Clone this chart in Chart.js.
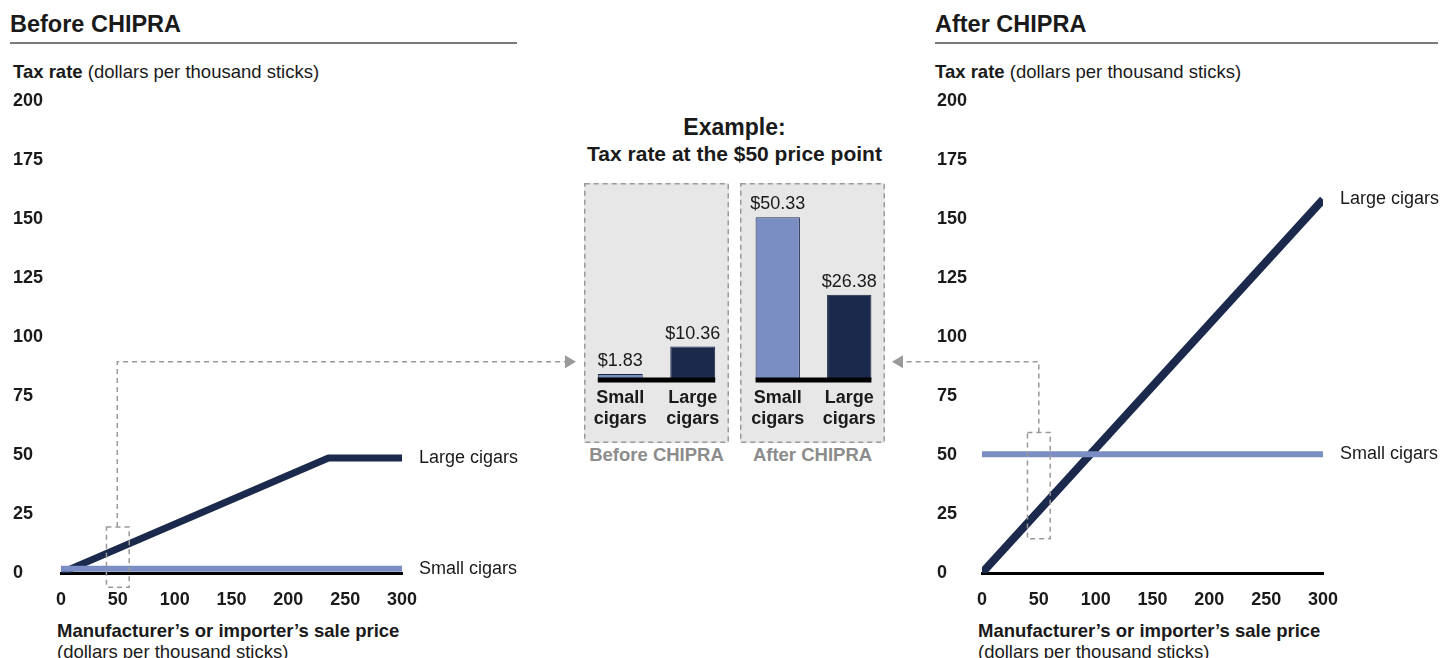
<!DOCTYPE html>
<html>
<head>
<meta charset="utf-8">
<script src="https://cdn.jsdelivr.net/npm/chart.js@4.4.1/dist/chart.umd.min.js"></script>
<style>
  body { margin: 0; background: #fff; font-family: "Liberation Sans", Arial, sans-serif; color: #1a1a1a; }
  #page { position: relative; width: 1442px; height: 658px; overflow: hidden; }
  .t { position: absolute; line-height: 1; white-space: nowrap; }
  .title { font-size: 23.5px; font-weight: bold; }
  .rule { position: absolute; height: 2px; background: #7a7a7a; }
  .lab { font-size: 18.5px; }
  canvas { position: absolute; }
</style>
</head>
<body>
<div id="page">
  <div class="t title" style="left:10px;top:13px">Before CHIPRA</div>
  <div class="rule" style="left:10px;top:42px;width:507px"></div>
  <div class="t lab" style="left:13px;top:63px"><b>Tax rate</b> (dollars per thousand sticks)</div>

  <div class="t title" style="left:935px;top:13px">After CHIPRA</div>
  <div class="rule" style="left:935px;top:42px;width:503px"></div>
  <div class="t lab" style="left:935px;top:63px"><b>Tax rate</b> (dollars per thousand sticks)</div>

  <canvas id="before" width="580" height="525" style="left:0;top:88px"></canvas>
  <canvas id="after" width="554" height="525" style="left:888px;top:88px"></canvas>

  <div class="t lab" style="left:57px;top:622px;font-weight:bold">Manufacturer’s or importer’s sale price</div>
  <div class="t lab" style="left:57px;top:643px">(dollars per thousand sticks)</div>
  <div class="t lab" style="left:978px;top:622px;font-weight:bold">Manufacturer’s or importer’s sale price</div>
  <div class="t lab" style="left:978px;top:643px">(dollars per thousand sticks)</div>

  <div class="t" style="left:584px;width:301px;top:116px;text-align:center;font-size:23px;font-weight:bold">Example:</div>
  <div class="t" style="left:584px;width:301px;top:143px;text-align:center;font-size:21px;font-weight:bold">Tax rate at the $50 price point</div>

  <canvas id="exBefore" width="145" height="260" style="left:584px;top:183px"></canvas>
  <canvas id="exAfter" width="145" height="260" style="left:740px;top:183px"></canvas>

  <div class="t lab" style="left:584px;width:145px;top:446px;text-align:center;font-weight:bold;color:#8c8c8c">Before CHIPRA</div>
  <div class="t lab" style="left:740px;width:145px;top:446px;text-align:center;font-weight:bold;color:#8c8c8c">After CHIPRA</div>
</div>

<script>
// tax rate in dollars per thousand sticks, by sale price
const priceLargeBefore = [0, 235.3, 300];
const largeBefore = [0, 48.75, 48.75];
const priceSmallBefore = [0, 300];
const smallBefore = [1.83, 1.83];

const priceLargeAfter = [0, 300];
const largeAfter = [0, 158.25];
const priceSmallAfter = [0, 300];
const smallAfter = [50.33, 50.33];

// example at the $50 price point
const exampleCats = [['Small', 'cigars'], ['Large', 'cigars']];
const exampleBefore = [1.83, 10.36];
const exampleAfter = [50.33, 26.38];

const DARK = '#1b2a4c';
const LIGHT = '#7a8ec4';
const FONT = '"Liberation Sans", Arial, sans-serif';

Chart.defaults.font.family = FONT;
Chart.defaults.color = '#1a1a1a';

const toPoints = (xs, ys) => xs.map((x, i) => ({ x: x, y: ys[i] }));

// line end labels ("Large cigars", "Small cigars")
const endLabels = {
  id: 'endLabels',
  afterDatasetsDraw(chart) {
    const ctx = chart.ctx;
    ctx.save();
    ctx.font = '18px ' + FONT;
    ctx.fillStyle = '#1a1a1a';
    ctx.textBaseline = 'middle';
    chart.data.datasets.forEach((ds, i) => {
      const pts = chart.getDatasetMeta(i).data;
      const last = pts[pts.length - 1];
      ctx.fillText(ds.label, last.x + 17, last.y);
    });
    ctx.restore();
  }
};

// dashed box around the $50 price point plus the arrow to the example
const zoomBox = {
  id: 'zoomBox',
  afterDraw(chart, args, o) {
    const ctx = chart.ctx, xs = chart.scales.x, ys = chart.scales.y;
    const W = chart.width;
    const bx0 = xs.getPixelForValue(o.x0), bx1 = xs.getPixelForValue(o.x1);
    const by0 = ys.getPixelForValue(o.y0), by1 = ys.getPixelForValue(o.y1);
    const vx = xs.getPixelForValue(o.at), hy = ys.getPixelForValue(o.lineY);
    ctx.save();
    ctx.strokeStyle = '#9a9a9a';
    ctx.lineWidth = 1.5;
    ctx.setLineDash([5, 4]);
    ctx.strokeRect(bx0, by1, bx1 - bx0, by0 - by1);
    ctx.beginPath();
    ctx.moveTo(vx, by1);
    ctx.lineTo(vx, hy);
    ctx.lineTo(o.side === 'right' ? W - 15 : 15, hy);
    ctx.stroke();
    ctx.setLineDash([]);
    ctx.fillStyle = '#9a9a9a';
    ctx.beginPath();
    if (o.side === 'right') {
      ctx.moveTo(W - 4, hy); ctx.lineTo(W - 15, hy - 6.5); ctx.lineTo(W - 15, hy + 6.5);
    } else {
      ctx.moveTo(4, hy); ctx.lineTo(15, hy - 6.5); ctx.lineTo(15, hy + 6.5);
    }
    ctx.closePath();
    ctx.fill();
    ctx.restore();
  }
};

function lineChart(id, datasets, pad, box) {
  return new Chart(document.getElementById(id), {
    type: 'scatter',
    data: { datasets: datasets },
    options: {
      responsive: false,
      animation: false,
      layout: { padding: pad },
      elements: { point: { radius: 0 } },
      scales: {
        x: {
          type: 'linear', min: 0, max: 300,
          ticks: { stepSize: 50, padding: 16, color: '#1a1a1a', font: { size: 18, weight: 'bold' } },
          grid: { display: false, drawTicks: false },
          border: { display: true, color: '#000', width: 3 },
          afterFit: s => { s.height = 40; }
        },
        y: {
          min: 0, max: 200,
          ticks: { stepSize: 25, crossAlign: 'far', padding: 0, color: '#1a1a1a', font: { size: 18, weight: 'bold' } },
          grid: { display: false, drawTicks: false },
          border: { display: false },
          afterFit: s => { s.width = pad.axis; }
        }
      },
      plugins: { legend: { display: false }, tooltip: { enabled: false }, zoomBox: box }
    },
    plugins: [endLabels, zoomBox]
  });
}

lineChart('before', [
  { label: 'Small cigars', data: toPoints(priceSmallBefore, smallBefore), showLine: true,
    borderColor: LIGHT, borderWidth: 6, order: 0 },
  { label: 'Large cigars', data: toPoints(priceLargeBefore, largeBefore), showLine: true,
    borderColor: DARK, borderWidth: 7, borderJoinStyle: 'round', order: 1 }
], { top: 13, left: 13, right: 178, bottom: 0, axis: 48 },
   { x0: 40, x1: 60, y0: -6, y1: 19.5, at: 49.5, lineY: 89.5, side: 'right' });

lineChart('after', [
  { label: 'Small cigars', data: toPoints(priceSmallAfter, smallAfter), showLine: true,
    borderColor: LIGHT, borderWidth: 6, order: 0 },
  { label: 'Large cigars', data: toPoints(priceLargeAfter, largeAfter), showLine: true,
    borderColor: DARK, borderWidth: 8, order: 1 }
], { top: 13, left: 49, right: 119, bottom: 0, axis: 45 },
   { x0: 40, x1: 60, y0: 14.5, y1: 59.5, at: 50, lineY: 89.5, side: 'left' });

// gray dashed panel, baseline and value labels of the example bars
const examplePanel = {
  id: 'examplePanel',
  beforeDraw(chart) {
    const ctx = chart.ctx;
    ctx.save();
    ctx.fillStyle = '#e7e7e7';
    ctx.fillRect(0, 0, chart.width, chart.height);
    ctx.strokeStyle = '#9a9a9a';
    ctx.lineWidth = 1.5;
    ctx.setLineDash([5, 4]);
    ctx.strokeRect(0.75, 0.75, chart.width - 1.5, chart.height - 1.5);
    ctx.restore();
  },
  afterDatasetsDraw(chart) {
    const ctx = chart.ctx;
    const bars = chart.getDatasetMeta(0).data;
    const vals = chart.data.datasets[0].data;
    const first = bars[0], last = bars[bars.length - 1];
    ctx.save();
    ctx.strokeStyle = '#000';
    ctx.lineWidth = 5;
    ctx.beginPath();
    ctx.moveTo(first.x - first.width / 2, chart.chartArea.bottom);
    ctx.lineTo(last.x + last.width / 2, chart.chartArea.bottom);
    ctx.stroke();
    ctx.font = '18px ' + FONT;
    ctx.fillStyle = '#1a1a1a';
    ctx.textAlign = 'center';
    ctx.textBaseline = 'alphabetic';
    bars.forEach((b, i) => ctx.fillText('$' + vals[i].toFixed(2), b.x, b.y - 8));
    ctx.restore();
  }
};

function exampleChart(id, values, padLeft) {
  return new Chart(document.getElementById(id), {
    type: 'bar',
    data: {
      labels: exampleCats,
      datasets: [{
        data: values,
        backgroundColor: [LIGHT, DARK],
        borderColor: '#1b2747',
        borderWidth: 1,
        barPercentage: 0.62,
        categoryPercentage: 1
      }]
    },
    options: {
      responsive: false,
      animation: false,
      layout: { padding: { top: 3, left: padLeft, right: 0, bottom: 0 } },
      scales: {
        x: {
          grid: { display: false, drawTicks: false },
          border: { display: false },
          ticks: { padding: 7, color: '#1a1a1a', font: { size: 18, weight: 'bold' } },
          afterFit: s => { s.height = 63; }
        },
        y: { display: false, min: 0, max: 60 }
      },
      plugins: { legend: { display: false }, tooltip: { enabled: false } }
    },
    plugins: [examplePanel]
  });
}

exampleChart('exBefore', exampleBefore, 0);
exampleChart('exAfter', exampleAfter, 2);
</script>
</body>
</html>
